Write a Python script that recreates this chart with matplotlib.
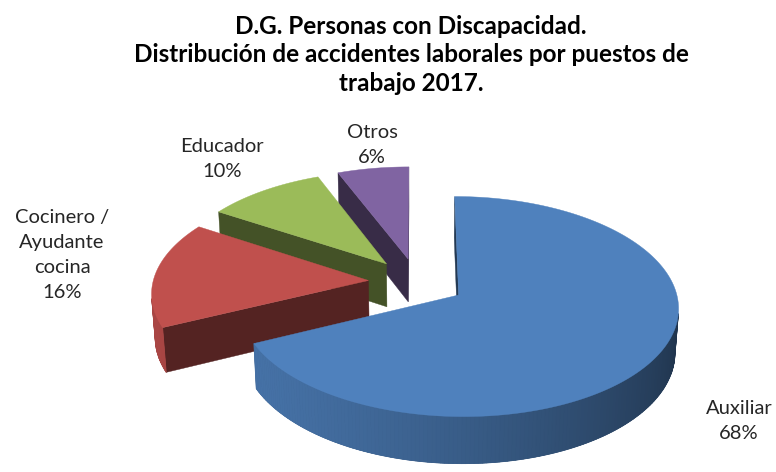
import numpy as np
import matplotlib.pyplot as plt
from matplotlib.patches import Polygon
from matplotlib.colors import to_rgb

labels = ["Auxiliar", "Cocinero /\nAyudante\ncocina", "Educador", "Otros"]
shares = [68, 16, 10, 6]
colors = ["#4f81bd", "#c0504d", "#9bbb59", "#8064a2"]
title = ("D.G. Personas con Discapacidad.\n"
         "Distribución de accidentes laborales por puestos de\n"
         "trabajo 2017.")

# fake 3D view (pixels)
CX, CY = 417, 282
ELEV = np.radians(29.5)
DIST = 8.4
FOCAL = 1810
THICK = 0.235
EXPLODE = 0.226
CAM = np.array([0.0, -DIST * np.cos(ELEV), DIST * np.sin(ELEV)])


def project(x, y, z):
    w = DIST + y * np.cos(ELEV) - z * np.sin(ELEV)
    up = y * np.sin(ELEV) + z * np.cos(ELEV)
    return CX + x * FOCAL / w, CY - up * FOCAL / w


def facing(px, py, nx, ny):
    return nx * (CAM[0] - px) + ny * (CAM[1] - py) > 0


def shade(c, f):
    return tuple(min(1, v * f) for v in to_rgb(c))


def poly(ax, pts3d, color, lw=0.0):
    xy = [project(*p) for p in pts3d]
    ax.add_patch(Polygon(xy, closed=True, facecolor=color, edgecolor=color,
                         lw=lw, antialiased=True))


fig = plt.figure(figsize=(7.76, 4.72), dpi=100)
ax = fig.add_axes([0, 0, 1, 1])
ax.set_xlim(0, 776)
ax.set_ylim(472, 0)
ax.axis("off")

# slice angles: start at 12 o'clock, clockwise
slices = []
start = 90.0
for lab, s, c in zip(labels, shares, colors):
    end = start - s * 3.6
    slices.append((lab, s, c, end, start))
    start = end

order = [3, 2, 1, 0]
for i in order:
    lab, s, c, t1, t2 = slices[i]
    mid = np.radians((t1 + t2) / 2)
    ox, oy = EXPLODE * np.cos(mid), EXPLODE * np.sin(mid)
    ts = np.radians(np.linspace(t1, t2, max(8, int(abs(t2 - t1)))))

    # radial faces
    for t, sgn in ((ts[0], -1), (ts[-1], 1)):
        nx, ny = np.cos(t + sgn * np.pi / 2), np.sin(t + sgn * np.pi / 2)
        ex, ey = ox + np.cos(t), oy + np.sin(t)
        if facing((ox + ex) / 2, (oy + ey) / 2, nx, ny):
            poly(ax, [(ox, oy, 0), (ex, ey, 0), (ex, ey, -THICK), (ox, oy, -THICK)],
                 shade(c, 0.44), lw=0.3)

    # outer rim: base strip, then shaded segments
    vis = [t for t in ts if facing(ox + np.cos(t), oy + np.sin(t), np.cos(t), np.sin(t))]
    if len(vis) > 1:
        vis = np.array(vis)
        strip = [(ox + np.cos(t), oy + np.sin(t), 0) for t in vis] + \
                [(ox + np.cos(t), oy + np.sin(t), -THICK) for t in vis[::-1]]
        poly(ax, strip, shade(c, 0.6), lw=0.3)
        for a, b in zip(vis[:-1], vis[1:]):
            tm = (a + b) / 2
            f = 0.63 + 0.25 * np.cos(tm - np.radians(200))
            pts = [(ox + np.cos(a), oy + np.sin(a), 0), (ox + np.cos(b), oy + np.sin(b), 0),
                   (ox + np.cos(b), oy + np.sin(b), -THICK),
                   (ox + np.cos(a), oy + np.sin(a), -THICK)]
            poly(ax, pts, shade(c, f), lw=0.6)

    # top
    top = [(ox, oy, 0)] + [(ox + np.cos(t), oy + np.sin(t), 0) for t in ts]
    poly(ax, top, c, lw=0.3)

font = "Lato"
ax.text(411, 55, title, ha="center", va="center", fontsize=17.5, fontweight="bold",
        family=font, linespacing=1.3, color="#000000")

label_pos = [(739, 421), (62, 255), (222, 159), (372, 145)]
for (lab, s, c, t1, t2), (lx, ly) in zip(slices, label_pos):
    ax.text(lx, ly, f"{lab}\n{s}%", ha="center", va="center", fontsize=14.5,
            family=font, linespacing=1.55, color="#262626")

fig.savefig("out.png", dpi=100)
